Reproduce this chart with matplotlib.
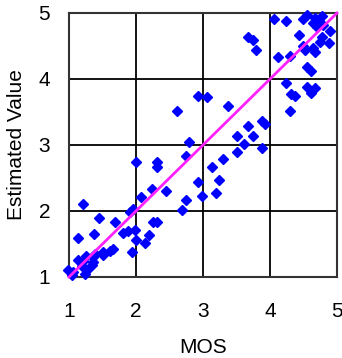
import numpy as np
import matplotlib
matplotlib.use("Agg")
import matplotlib.pyplot as plt

plt.rcParams['font.family'] = ['Liberation Sans', 'DejaVu Sans']

# MOS vs estimated value
mos = [4.06, 4.24, 4.49, 4.55, 4.64, 4.67, 4.73, 4.78, 4.79, 4.70,
       4.90, 4.43, 4.78, 4.75, 4.88, 4.49, 4.52, 4.64, 4.67, 4.30,
       4.12, 4.55, 4.61, 4.24, 4.55, 4.67, 4.61, 4.31, 4.37, 4.30,
       3.67, 3.75, 3.79, 2.93, 3.06, 3.37, 3.88, 3.93, 3.67, 3.51,
       3.75, 3.61, 3.88, 3.51, 3.30, 3.13, 2.93, 3.24, 2.99, 3.19,
       2.61, 2.79, 2.75, 2.00, 2.31, 2.31, 2.75, 2.69, 2.24, 2.45,
       2.07, 1.21, 1.91, 1.96, 1.45, 1.69, 2.25, 2.31, 1.99, 2.00,
       2.19, 2.13, 1.94, 1.13, 1.37, 1.81, 1.88, 1.66, 1.61, 1.51,
       1.51, 1.39, 1.36, 1.25, 1.13, 1.36, 1.34, 1.21, 1.19, 1.27,
       1.24, 0.99, 1.06, 1.04]
estimated = [4.91, 4.88, 4.91, 4.97, 4.85, 4.92, 4.88, 4.95, 4.82, 4.79,
             4.73, 4.67, 4.64, 4.56, 4.55, 4.50, 4.44, 4.47, 4.41, 4.35,
             4.33, 4.18, 4.12, 3.94, 3.88, 3.86, 3.79, 3.77, 3.74, 3.52,
             4.64, 4.59, 4.44, 3.74, 3.73, 3.59, 3.36, 3.32, 3.29, 3.14,
             3.14, 3.02, 2.95, 2.89, 2.79, 2.67, 2.44, 2.47, 2.23, 2.27,
             3.52, 3.05, 2.83, 2.74, 2.74, 2.67, 2.17, 2.02, 2.33, 2.30,
             2.21, 2.11, 1.98, 2.03, 1.89, 1.83, 1.83, 1.83, 1.71, 1.56,
             1.64, 1.52, 1.38, 1.59, 1.65, 1.67, 1.70, 1.42, 1.39, 1.38,
             1.33, 1.35, 1.30, 1.32, 1.26, 1.23, 1.18, 1.24, 1.17, 1.11,
             1.05, 1.11, 1.08, 1.03]
ideal = [1, 5]
ticks = [1, 2, 3, 4, 5]

fig = plt.figure(figsize=(3.42, 3.58), dpi=100)
ax = fig.add_axes([0.2018, 0.2263, 0.7836, 0.7374])

ax.plot(mos, estimated, linestyle="none", marker="D", markersize=5,
        color="#0000FF", clip_on=False, zorder=3)
ax.plot(ideal, ideal, color="#FF22FF", linewidth=2, zorder=4, clip_on=False)

ax.set_xlim(1, 5)
ax.set_ylim(1, 5)
ax.set_xticks(ticks)
ax.set_yticks(ticks)
ax.grid(True, color="black", linewidth=1.3)
ax.set_axisbelow(True)
for s in ax.spines.values():
    s.set_color("#333333")
    s.set_linewidth(1.5)
ax.tick_params(length=0, labelsize=15)
ax.tick_params(axis="x", pad=18)
ax.tick_params(axis="y", pad=13.5)
ax.set_xlabel("MOS", fontsize=15, labelpad=12)
ax.set_ylabel("Estimated Value", fontsize=15, labelpad=9)

fig.savefig("out.png", dpi=100)
